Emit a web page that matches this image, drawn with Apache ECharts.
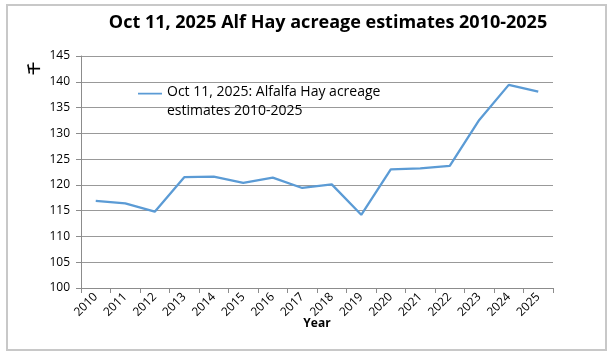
<!DOCTYPE html>
<html><head><meta charset="utf-8">
<script src="https://cdn.jsdelivr.net/npm/echarts@6/dist/echarts.min.js"></script>
<style>html,body{margin:0;padding:0;background:#fff;}#c{width:614px;height:355px;}</style>
</head><body><div id="c"></div>
<script>
const years = ['2010','2011','2012','2013','2014','2015','2016','2017','2018','2019','2020','2021','2022','2023','2024','2025'];
const acreage = [116.9,116.4,114.8,121.5,121.6,120.4,121.4,119.4,120.1,114.2,123.0,123.2,123.7,132.6,139.4,138.1];
const seriesName = 'Oct 11, 2025: Alfalfa Hay acreage\nestimates 2010-2025';
const titleText = 'Oct 11, 2025 Alf Hay acreage estimates 2010-2025';

const chart = echarts.init(document.getElementById('c'), null, {renderer:'canvas'});
chart.setOption({
  animation:false,
  backgroundColor:'#fff',
  title:{text:titleText,left:323,top:9,textAlign:'center',
    textStyle:{fontFamily:'Open Sans',fontWeight:'bold',fontSize:18,color:'#000'}},
  graphic:[
    {type:'rect',shape:{x:7,y:5,width:599,height:345},style:{fill:'none',stroke:'#c8c8c8',lineWidth:2},z:-1},
    {type:'text',x:27,y:75,rotation:Math.PI/2,originX:0,originY:0,style:{text:'千',fontSize:13,fontWeight:'bold',fill:'#000',fontFamily:'Noto Sans CJK SC'}}
  ],
  legend:{show:true,left:133,top:78,itemWidth:24,itemHeight:38,itemGap:4,
    textStyle:{fontFamily:'Open Sans',fontSize:14,color:'#000',lineHeight:19},
    data:[{name:seriesName,icon:'path://M0,0H0.05V0.05H0ZM0,9H26V11H0ZM0,38H0.05V38.05H0Z'}]},
  grid:{left:81,right:61,top:56,bottom:67},
  xAxis:{type:'category',data:years,boundaryGap:true,
    name:'Year',nameLocation:'middle',nameGap:30,nameMoveOverlap:false,
    nameTextStyle:{fontFamily:'Open Sans',fontWeight:'bold',fontSize:12,color:'#000'},
    axisLine:{lineStyle:{color:'#8c8c8c',width:1}},
    axisTick:{show:true,length:5,alignWithLabel:false,lineStyle:{color:'#8c8c8c'}},
    axisLabel:{rotate:45,fontFamily:'Open Sans',fontSize:12,color:'#000',margin:7,interval:0}},
  yAxis:{type:'value',min:100,max:145,interval:5,
    axisLine:{show:true,lineStyle:{color:'#8c8c8c',width:1}},
    axisTick:{show:true,length:5,lineStyle:{color:'#8c8c8c'}},
    axisLabel:{fontFamily:'Open Sans',fontSize:12,color:'#000',margin:11},
    splitLine:{lineStyle:{color:'#999',width:1}}},
  series:[{name:seriesName,type:'line',data:acreage,symbol:'none',
    lineStyle:{color:'#5B9BD5',width:2.3},itemStyle:{color:'#5B9BD5'}}]
});
</script></body></html>
